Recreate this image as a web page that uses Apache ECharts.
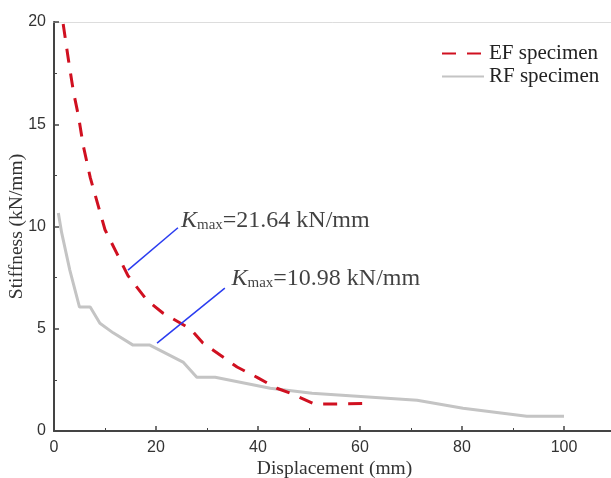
<!DOCTYPE html>
<html>
<head>
<meta charset="utf-8">
<script src="https://cdn.jsdelivr.net/npm/echarts@6/dist/echarts.min.js"></script>
<style>
  html, body { margin: 0; padding: 0; background: #fff; }
  #chart { width: 611px; height: 478px; }
</style>
</head>
<body>
<div id="chart"></div>
<script>
'use strict';

// [displacement (mm), stiffness (kN/mm)]
var efData = [
  [1.8, 19.9], [2.8, 18.2], [3.8, 16.6], [4.8, 15.4], [5.7, 14.0], [7.1, 12.4],
  [10.0, 9.84], [12.3, 8.7], [14.5, 7.6], [18.2, 6.4], [21.4, 5.76], [26.7, 5.0],
  [29.2, 4.3], [35.9, 3.13], [40.0, 2.6], [43.7, 2.09], [46.3, 1.85], [51.2, 1.31],
  [62.5, 1.35]
];
var rfData = [
  [0.85, 10.66], [1.5, 9.7], [3.1, 7.87], [5.0, 6.06], [7.1, 6.06], [9.0, 5.27],
  [11.6, 4.8], [15.5, 4.2], [18.8, 4.2], [25.3, 3.37], [28.0, 2.63], [31.6, 2.63],
  [42.4, 2.09], [50.6, 1.85], [71.2, 1.5], [80.2, 1.11], [92.7, 0.72], [100, 0.72]
];

var seriesNames = ['EF specimen', 'RF specimen'];
var kmaxValues = ['21.64', '10.98'];
// leader line from curve to label, and label anchor (data coords)
var leaderLines = [
  [[14.5, 7.87], [24.3, 9.94]],
  [[20.2, 4.30], [33.5, 6.99]]
];
var labelAnchors = [[24.9, 10.32], [34.8, 7.49]];

var serif = '"Liberation Serif", "Times New Roman", serif';
var sans = '"Liberation Sans", Arial, sans-serif';

var chart = echarts.init(document.getElementById('chart'));

chart.setOption({
  animation: false,
  legend: {
    orient: 'vertical',
    left: 436,
    top: 38,
    itemWidth: 42,
    itemHeight: 14,
    itemGap: 2,
    data: seriesNames,
    itemStyle: { opacity: 0 },
    textStyle: { fontFamily: serif, fontSize: 21, color: '#222' }
  },
  grid: { left: 54, top: 22, right: -4, bottom: 47, outerBoundsMode: 'none' },
  xAxis: [{
    type: 'value',
    min: 0,
    max: 110,
    interval: 20,
    name: 'Displacement (mm)',
    nameLocation: 'middle',
    nameGap: 28,
    nameMoveOverlap: false,
    nameTextStyle: { fontFamily: serif, fontSize: 19.5, color: '#333' },
    axisLine: { lineStyle: { color: '#444', width: 2 } },
    axisTick: { inside: true, length: 5, lineStyle: { color: '#444', width: 1.5 } },
    minorTick: { show: true, splitNumber: 2, length: 3, lineStyle: { color: '#444' } },
    axisLabel: { showMaxLabel: false, margin: 9, fontFamily: sans, fontSize: 16, color: '#333' },
    splitLine: { show: false }
  }, {
    type: 'value',
    position: 'top',
    min: 0,
    max: 110,
    axisLine: { show: true, lineStyle: { color: '#ddd', width: 1 } },
    axisTick: { show: false },
    axisLabel: { show: false },
    splitLine: { show: false }
  }],
  yAxis: {
    type: 'value',
    min: 0,
    max: 20,
    interval: 5,
    name: 'Stiffness (kN/mm)',
    nameLocation: 'middle',
    nameGap: 27,
    nameMoveOverlap: false,
    nameTextStyle: { fontFamily: serif, fontSize: 19.5, color: '#333' },
    axisLine: { show: true, lineStyle: { color: '#444', width: 2 } },
    axisTick: { show: true, inside: true, length: 5, lineStyle: { color: '#444', width: 1.5 } },
    minorTick: { show: true, splitNumber: 2, length: 3, lineStyle: { color: '#444' } },
    axisLabel: { margin: 8, fontFamily: sans, fontSize: 16, color: '#333' },
    splitLine: { show: false }
  },
  series: [{
    name: seriesNames[0],
    type: 'line',
    data: efData,
    symbol: 'none',
    color: '#d01020',
    lineStyle: { color: '#d01020', width: 3, type: [14, 11] },
    z: 3
  }, {
    name: seriesNames[1],
    type: 'line',
    data: rfData,
    symbol: 'none',
    color: '#c4c4c4',
    lineStyle: { color: '#c4c4c4', width: 3 },
    z: 2
  }, {
    name: 'leaders',
    type: 'lines',
    coordinateSystem: 'cartesian2d',
    data: leaderLines.map(function(c) { return { coords: c }; }),
    lineStyle: { color: '#2a3cf0', width: 1.5, opacity: 1 },
    z: 4
  }, {
    name: 'labels',
    type: 'scatter',
    data: labelAnchors.map(function(p, i) {
      return { value: p, kmax: kmaxValues[i] };
    }),
    symbolSize: 0,
    label: {
      show: true,
      position: 'right',
      distance: 0,
      formatter: function(p) {
        return '{k|K}{sub|max}{t|=' + p.data.kmax + ' kN/mm}';
      },
      rich: {
        k: { fontFamily: serif, fontStyle: 'italic', fontSize: 24, color: '#111', verticalAlign: 'bottom', lineHeight: 26 },
        sub: { fontFamily: serif, fontSize: 15, color: '#111', verticalAlign: 'bottom', lineHeight: 21 },
        t: { fontFamily: serif, fontSize: 24, color: '#111', verticalAlign: 'bottom', lineHeight: 26 }
      }
    },
    z: 5
  }]
});
</script>
</body>
</html>
